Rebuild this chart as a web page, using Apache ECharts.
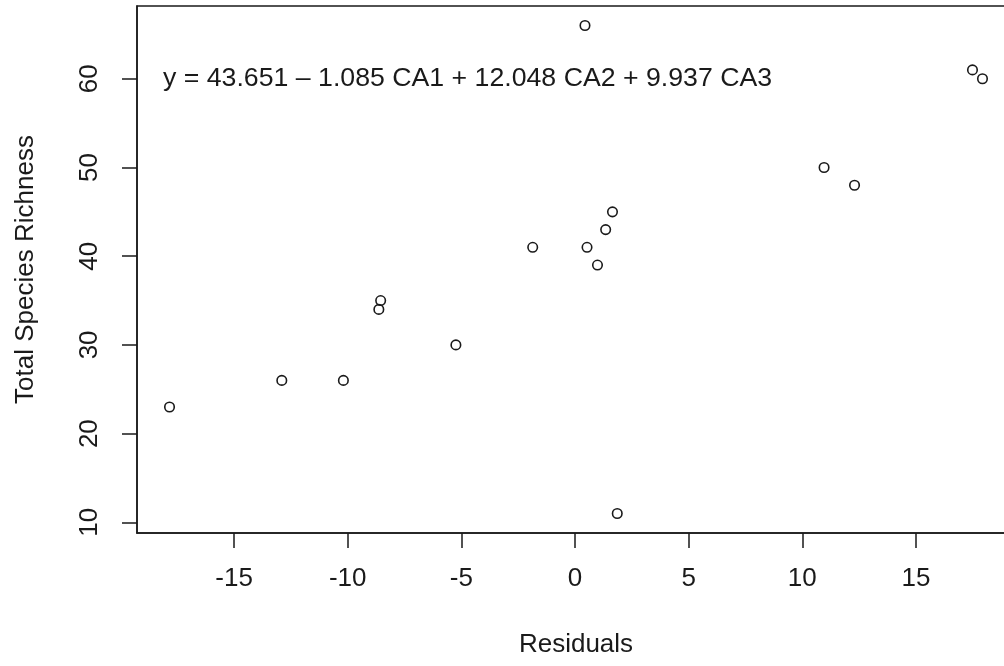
<!DOCTYPE html>
<html>
<head>
<meta charset="utf-8">
<title>Total Species Richness vs Residuals</title>
<script src="https://cdn.jsdelivr.net/npm/echarts@6/dist/echarts.min.js"></script>
<style>
  html, body { margin: 0; padding: 0; background: #fff; }
  #chart { width: 1004px; height: 666px; }
</style>
</head>
<body>
<div id="chart"></div>
<script>
// Residuals (x) and total species richness (y) for each site
const residuals = [-17.84, -12.90, -10.19, -8.55, -8.63, -5.24, -1.86, 0.53, 0.99, 1.35, 1.65, 0.44, 1.86, 10.96, 12.30, 17.49, 17.93];
const richness  = [23, 26, 26, 35, 34, 30, 41, 41, 39, 43, 45, 66, 11, 50, 48, 61, 60];

// Tick labels
const xTicks = [-15, -10, -5, 0, 5, 10, 15];
const yTicks = [10, 20, 30, 40, 50, 60];

// Fitted model shown as annotation
const equation = 'y = 43.651 \u2013 1.085 CA1 + 12.048 CA2 + 9.937 CA3';

// Axis ranges padded by 4% of the data range on each side
function paddedRange(values) {
  const lo = Math.min(...values), hi = Math.max(...values);
  const pad = (hi - lo) * 0.04;
  return [lo - pad, hi + pad];
}
const [xMin, xMax] = paddedRange(residuals);
const [yMin, yMax] = paddedRange(richness);

const points = residuals.map((r, i) => [r, richness[i]]);

const FONT = '"Liberation Sans", Arial, Helvetica, sans-serif';
const INK = '#1a1a1a';

const chart = echarts.init(document.getElementById('chart'), null, { renderer: 'canvas' });

chart.setOption({
  animation: false,
  backgroundColor: '#ffffff',
  grid: {
    left: 137, top: 6, width: 878, height: 527,
    outerBoundsMode: 'none',
    containLabel: false,
    show: true, borderColor: INK, borderWidth: 1.5, backgroundColor: 'transparent'
  },
  xAxis: {
    type: 'value',
    min: xMin, max: xMax,
    name: 'Residuals',
    nameLocation: 'middle',
    nameGap: 99,
    nameTextStyle: { fontFamily: FONT, fontSize: 26, color: INK },
    axisLine: { show: true, onZero: false, lineStyle: { color: INK, width: 1.5 } },
    axisTick: { show: true, inside: false, length: 15, customValues: xTicks, lineStyle: { color: INK, width: 1.5 } },
    axisLabel: { show: true, margin: 33, customValues: xTicks, fontFamily: FONT, fontSize: 26, color: INK },
    splitLine: { show: false }
  },
  yAxis: {
    type: 'value',
    min: yMin, max: yMax,
    name: 'Total Species Richness',
    nameLocation: 'middle',
    nameRotate: 90,
    nameGap: 98,
    nameTextStyle: { fontFamily: FONT, fontSize: 26, color: INK },
    axisLine: { show: true, onZero: false, lineStyle: { color: INK, width: 1.5 } },
    axisTick: { show: true, inside: false, length: 15, customValues: yTicks, lineStyle: { color: INK, width: 1.5 } },
    axisLabel: { show: true, rotate: 90, margin: 34, customValues: yTicks, fontFamily: FONT, fontSize: 26, color: INK },
    splitLine: { show: false }
  },
  series: [{
    type: 'scatter',
    data: points,
    symbol: 'circle',
    symbolSize: 9.5,
    itemStyle: { color: 'rgba(0,0,0,0)', borderColor: INK, borderWidth: 1.6, opacity: 1 },
    emphasis: { disabled: true },
    silent: true
  }],
  graphic: [{
    type: 'text',
    x: 163,
    y: 79,
    silent: true,
    style: {
      text: equation,
      font: '26.7px ' + FONT,
      fill: INK,
      textAlign: 'left',
      textVerticalAlign: 'middle'
    }
  }]
});
</script>
</body>
</html>
